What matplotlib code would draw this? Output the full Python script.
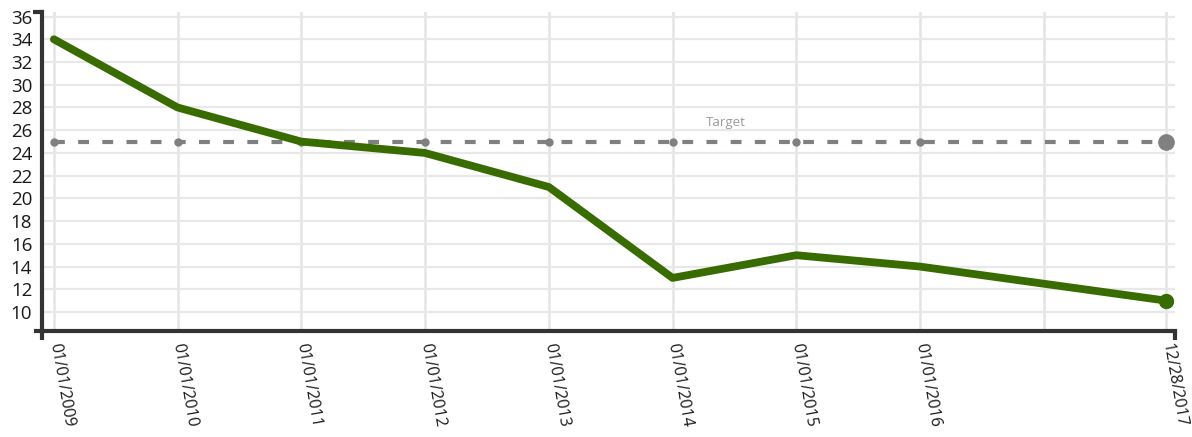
import matplotlib
matplotlib.use("Agg")
import matplotlib.pyplot as plt
import pandas as pd

# data
dates = ["2009-01-01", "2010-01-01", "2011-01-01", "2012-01-01", "2013-01-01",
         "2014-01-01", "2015-01-01", "2016-01-01", "2017-12-28"]
values = [34, 28, 25, 24, 21, 13, 15, 14, 11]
target = 25
target_label = "Target"
tick_dates = ["2009-01-01", "2010-01-01", "2011-01-01", "2012-01-01", "2013-01-01",
              "2014-01-01", "2015-01-01", "2016-01-01", "2017-12-28"]
tick_labels = ["01/01/2009", "01/01/2010", "01/01/2011", "01/01/2012", "01/01/2013",
               "01/01/2014", "01/01/2015", "01/01/2016", "12/28/2017"]
grid_dates = tick_dates + ["2017-01-01"]
y_ticks = list(range(10, 37, 2))

x = pd.to_datetime(dates)
plt.rcParams['font.family'] = ['Open Sans', 'DejaVu Sans']

fig = plt.figure(figsize=(11.92, 4.37), dpi=100)
ax = fig.add_axes([42 / 1192, 1 - 331 / 437, (1175 - 42) / 1192, (331 - 12) / 437])

ax.set_xlim(x[0] - pd.Timedelta(days=35), x[-1] + pd.Timedelta(days=26))
ax.set_ylim(8.33, 36.4)

# grid
for d in pd.to_datetime(grid_dates):
    ax.axvline(d, color='#e4e4e4', lw=1.8, zorder=0)
for v in y_ticks:
    ax.axhline(v, color='#e8e8e8', lw=1.6, zorder=0)

# target line
ax.plot([x[0], x[-1]], [target, target], color='#808080', lw=3, ls=(0, (2.6, 3.2)),
        zorder=2)
ax.plot(x[:-1], [target] * (len(x) - 1), 'o', color='#808080', ms=5, zorder=2)
ax.plot(x[-1:], [target], 'o', color='#808080', ms=11, zorder=2)
ax.text(pd.Timestamp("2014-06-07"), 26.65, target_label, color='#9a9a9a',
        fontsize=9.5, ha='center', va='center')

# main series
ax.plot(x, values, color='#386b00', lw=5.6, solid_joinstyle='round',
        solid_capstyle='round', zorder=3)
ax.plot(x[-1:], values[-1:], 'o', color='#386b00', ms=10, zorder=3)

ax.set_xticks(pd.to_datetime(tick_dates))
ax.set_xticklabels(tick_labels, rotation=-80, ha='left', va='center',
                   rotation_mode='anchor', fontsize=11.6, color='#1a1a1a')
ax.set_yticks(y_ticks)
ax.set_yticklabels([str(v) for v in y_ticks], fontsize=13.5, color='#1a1a1a')
ax.tick_params(axis='x', length=0, pad=9)
ax.tick_params(axis='y', length=0, pad=7)

for s in ['top', 'right']:
    ax.spines[s].set_visible(False)
for s in ['left', 'bottom']:
    ax.spines[s].set_color('#333333')
    ax.spines[s].set_linewidth(3)

# outer ticks on the axis ends
k = dict(color='#333333', lw=3, transform=ax.transAxes, clip_on=False,
         solid_capstyle='butt')
ax.plot([-0.008, 0.0015], [1, 1], **k)
ax.plot([-0.007, 0], [0, 0], **k)
ax.plot([0, 0], [0, -0.028], **k)
ax.plot([1, 1], [0, -0.028], **k)

fig.savefig("out.png", dpi=100)
